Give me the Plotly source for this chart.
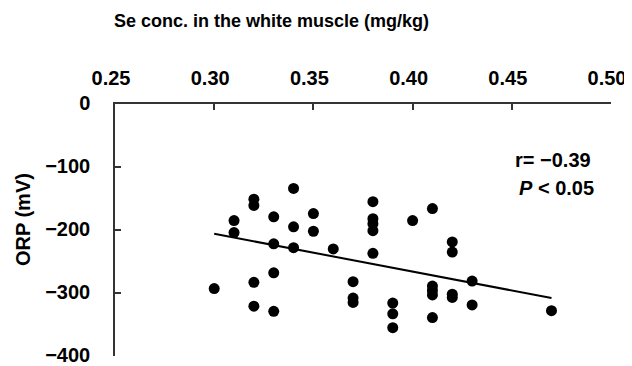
import plotly.graph_objects as go

# Data
se_conc = [0.30,
           0.31, 0.31,
           0.32, 0.32, 0.32, 0.32,
           0.33, 0.33, 0.33, 0.33,
           0.34, 0.34, 0.34,
           0.35, 0.35,
           0.36,
           0.37, 0.37, 0.37,
           0.38, 0.38, 0.38, 0.38, 0.38,
           0.39, 0.39, 0.39,
           0.40,
           0.41, 0.41, 0.41, 0.41, 0.41,
           0.42, 0.42, 0.42, 0.42,
           0.43, 0.43,
           0.47]
orp = [-293,
       -185, -204,
       -151, -161, -283, -321,
       -179, -222, -268, -329,
       -134, -195, -228,
       -174, -202,
       -230,
       -282, -308, -315,
       -155, -182, -190, -201, -237,
       -316, -333, -355,
       -185,
       -166, -289, -296, -303, -339,
       -219, -235, -302, -307,
       -281, -319,
       -328]

fit_x = [0.30, 0.47]
fit_y = [-206, -308]

x_ticks = [0.25, 0.30, 0.35, 0.40, 0.45, 0.50]
x_ticklabels = ["0.25", "0.30", "0.35", "0.40", "0.45", "0.50"]
y_ticks = [0, -100, -200, -300, -400]
y_ticklabels = ["0", "\u2212100", "\u2212200", "\u2212300", "\u2212400"]

FONT = "Liberation Sans"

# page body has an 8px margin; plot area on the page: x 115..611.5, y 104..356
PLOT_TOP, PLOT_BOTTOM = 104, 356
fig = go.Figure()
fig.add_trace(go.Scatter(x=fit_x, y=fit_y, mode="lines",
                         line=dict(color="black", width=2), hoverinfo="skip"))
fig.add_trace(go.Scatter(x=se_conc, y=orp, mode="markers",
                         marker=dict(color="black", size=11)))

fig.update_layout(
    width=624, height=358,
    margin=dict(l=107, r=20.5, t=PLOT_TOP - 8, b=358 - (PLOT_BOTTOM - 8)),
    paper_bgcolor="white", plot_bgcolor="white",
    showlegend=False,
    font=dict(family=FONT, size=18, color="black"),
    xaxis=dict(side="top", range=[0.25, 0.50], tickvals=x_ticks, automargin=False,
               ticklabeloverflow="allow", ticklabelshift=-4,
               ticktext=["<b>%s</b>" % t for t in x_ticklabels],
               showgrid=False, zeroline=False, showline=True, linecolor="#333", linewidth=1.5,
               ticks="inside", ticklen=6, tickcolor="#333", tickwidth=1.5,
               tickfont=dict(family=FONT, size=20, color="black"), ticklabelstandoff=9),
    yaxis=dict(range=[-400, 0], tickvals=y_ticks, automargin=False,
               ticklabeloverflow="allow", ticklabelshift=-1,
               ticktext=["<b>%s</b>" % t for t in y_ticklabels],
               showgrid=False, zeroline=False, showline=True, linecolor="#333", linewidth=1.5,
               ticks="inside", ticklen=6, tickcolor="#333", tickwidth=1.5,
               tickfont=dict(family=FONT, size=20, color="black"), ticklabelstandoff=19),
)

def px(x):
    return (x - 115) / 496.5

def py(y):
    return (PLOT_BOTTOM - y) / (PLOT_BOTTOM - PLOT_TOP)

fig.add_annotation(text="<b>Se conc. in the white muscle (mg/kg)</b>", xref="paper", yref="paper",
                   x=px(272), y=py(21), xanchor="center", yanchor="middle",
                   showarrow=False, font=dict(family=FONT, size=18))
fig.add_annotation(text="<b>ORP (mV)</b>", xref="paper", yref="paper",
                   x=px(23), y=py(220), xanchor="center", yanchor="middle",
                   textangle=-90, showarrow=False, font=dict(family=FONT, size=20))
fig.add_annotation(text="<b>r= \u22120.39</b>", xref="paper", yref="paper",
                   x=px(593), y=py(160), xanchor="right", yanchor="middle",
                   showarrow=False, font=dict(family=FONT, size=20))
fig.add_annotation(text="<b><i>P</i> < 0.05</b>", xref="paper", yref="paper",
                   x=px(596), y=py(188), xanchor="right", yanchor="middle",
                   showarrow=False, font=dict(family=FONT, size=20))

fig.write_html("out.html")
